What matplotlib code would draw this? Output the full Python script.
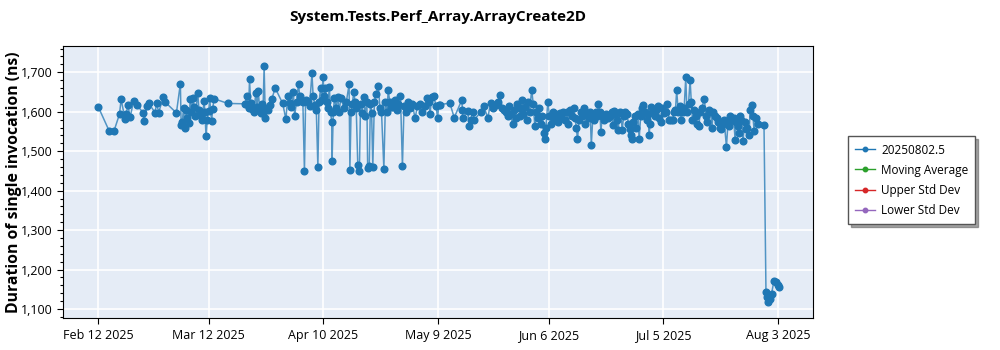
import numpy as np
import pandas as pd
import matplotlib
matplotlib.use("Agg")
from matplotlib import pyplot as plt
from matplotlib.ticker import MultipleLocator, FuncFormatter
import matplotlib.dates as mdates

plt.rcParams['font.family'] = ['Open Sans', 'DejaVu Sans']

start = pd.Timestamp("2025-02-12")

# days after Feb 12 2025
days = [0, 2.8, 4, 5.4, 5.8, 6.8, 7.1, 7.5, 8.1, 9.0, 9.8, 11.4, 11.6, 12.4, 12.8, 14.4, 14.8, 15.3, 16.5, 16.9,
        19.8, 20.8, 21.0, 21.3, 21.6, 22.0, 22.3, 22.6, 23.0, 23.3, 23.6, 24.0, 24.3, 24.6, 25.2, 25.5, 25.9, 26.3,
        26.8, 27.0, 27.3, 27.6, 28.0, 28.2, 28.7, 29.0, 29.3, 32.8,
        37.2, 37.6, 37.9, 38.1, 38.3, 38.6, 39.0, 39.4, 39.9, 40.2, 40.5, 40.9, 41.2, 41.5, 41.7, 42.0, 42.3, 42.6,
        43.0, 43.5, 43.9, 44.8, 46.7, 47.5,
        48.0, 48.5, 48.9, 49.4, 49.7, 50.2, 50.7, 51.0, 51.4, 51.8, 52.2, 52.5, 53.0, 53.5, 54.1, 54.4, 54.8, 55.2,
        55.6, 55.9, 56.3, 56.6, 56.9, 57.2, 57.5, 57.8, 58.1, 58.5, 58.8, 59.1, 59.2, 59.5, 59.8, 60.2, 60.6, 61.0,
        61.4, 62.2, 62.8, 63.5, 63.7, 64.0, 64.3, 64.7, 65.0, 65.3, 65.7, 66.1, 66.4, 66.8, 67.2, 67.6, 68.0, 68.2,
        68.6, 68.9, 69.2, 69.5, 69.9, 70.3, 70.9, 71.3, 71.7, 72.3, 72.7, 73.1, 73.4, 73.8, 74.2,
        74.5, 75.0, 75.5, 76.0, 76.5, 77.0, 77.4, 77.8, 78.3, 78.8, 79.5, 80.2, 80.8, 81.5, 82.0, 82.6, 83.2, 83.6,
        84.0, 84.4, 84.9, 85.5, 85.9, 86.2, 86.6, 89.0, 90.1, 92.0, 92.2, 92.3, 93.5, 93.9, 94.3, 94.8, 95.2, 96.9,
        97.6, 98.6, 99.3, 99.8, 100.6, 101.2, 101.7, 102.2,
        102.8, 103.2, 103.6, 104.0, 104.4, 104.9, 105.3, 105.7, 106.0, 106.4, 106.8, 107.2, 107.6, 108.0, 108.4,
        108.8, 109.2, 109.7, 110.1, 110.5, 110.9, 111.3, 111.6, 112.0, 112.4, 112.8, 113.0, 113.3, 113.8, 114.2,
        114.6, 115.0, 115.4, 115.8, 116.3, 116.8, 117.2, 117.7, 118.2, 118.6, 119.0, 119.4, 119.8, 120.3, 120.7,
        121.0, 121.3, 121.7, 122.1, 122.5, 122.9, 123.3, 123.7, 124.1, 124.5, 124.8, 125.2, 125.6, 126.0, 126.3,
        126.6, 127.0, 127.2, 127.6, 128.0, 128.5, 129.0, 129.5, 130.0, 130.2, 130.5, 130.9, 131.2, 131.6, 132.0,
        132.3, 132.6, 133.0, 133.4, 133.8, 134.2, 134.5, 134.8, 135.0, 135.4, 135.8, 136.2, 136.6, 136.9, 137.3,
        137.6, 138.0, 138.4, 138.8, 139.2, 139.4, 139.7, 140.0, 140.4, 140.8, 141.2, 141.6, 142.0, 142.4, 142.8,
        143.2, 143.6, 144.0, 144.5, 145.0, 145.4, 145.8, 146.1, 146.4, 146.8, 147.2, 147.5, 147.9, 148.3, 148.7,
        149.0, 149.4, 149.8, 150.1, 150.4, 150.8, 151.2, 151.6, 152.0, 152.4, 152.8, 153.4, 153.8, 154.2, 154.6,
        155.0, 155.3, 155.7, 156.1, 156.5, 156.9, 157.3, 157.6, 158.0, 158.4, 159.0, 159.4, 159.7, 160.0, 160.4,
        160.8, 161.2, 161.5, 161.8, 162.1, 162.5, 162.8, 163.2, 163.6, 164.0, 164.3, 164.7, 165.0, 165.4, 165.7,
        166.0, 166.4, 167.0, 168.5,
        169.0, 169.3, 169.6, 170.0, 170.4, 171.0, 171.5, 172.0, 172.4]

# duration in ns
values = [1613, 1551, 1551, 1594, 1631, 1582, 1595, 1616, 1587, 1628, 1616, 1598, 1577, 1615, 1621, 1598, 1622, 1598, 1637, 1625,
          1597, 1671, 1566, 1574, 1610, 1559, 1605, 1585, 1572, 1631, 1600, 1635, 1612, 1590, 1648, 1605, 1590, 1580,
          1627, 1600, 1538, 1580, 1603, 1635, 1577, 1608, 1633, 1621,
          1620, 1641, 1616, 1610, 1682, 1622, 1608, 1600, 1648, 1612, 1653, 1605, 1598, 1620, 1598, 1715, 1583, 1610,
          1605, 1618, 1631, 1660, 1621, 1581,
          1639, 1622, 1612, 1651, 1589, 1625, 1670, 1640, 1628, 1625, 1449, 1630, 1625, 1615, 1697, 1640, 1618, 1605,
          1460, 1625, 1660, 1630, 1688, 1640, 1660, 1625, 1610, 1663, 1600, 1574, 1475, 1600, 1635, 1610, 1638, 1600,
          1635, 1610, 1625, 1669, 1452, 1600, 1620, 1650, 1625, 1610, 1465, 1449, 1620, 1598, 1638, 1590, 1625, 1458,
          1462, 1620, 1598, 1460, 1625, 1645, 1665, 1610, 1600, 1456, 1625, 1600, 1654, 1625, 1612,
          1612, 1630, 1605, 1620, 1640, 1462, 1615, 1600, 1625, 1610, 1620, 1583, 1615, 1620, 1600, 1615, 1636, 1625,
          1595, 1638, 1640, 1615, 1583, 1618, 1618, 1622, 1585, 1629, 1605, 1585, 1602, 1564, 1580, 1600, 1580, 1600,
          1614, 1584, 1622, 1610, 1618, 1625, 1642, 1610,
          1605, 1600, 1590, 1615, 1595, 1568, 1605, 1585, 1620, 1610, 1590, 1630, 1595, 1612, 1580,
          1625, 1600, 1656, 1620, 1563, 1600, 1585, 1610, 1570, 1590, 1545, 1532, 1560, 1625, 1590,
          1570, 1600, 1580, 1595, 1575, 1598, 1585, 1600, 1580, 1600, 1570, 1605, 1590, 1610, 1585,
          1560, 1530, 1580, 1600, 1590, 1610, 1570, 1595, 1585, 1600, 1516, 1590, 1580, 1600, 1590,
          1619, 1600, 1549, 1590, 1580, 1595, 1585, 1590, 1600, 1566, 1602, 1595, 1580, 1553, 1600,
          1598, 1553, 1590, 1600, 1595, 1570, 1555, 1540, 1530, 1575, 1590, 1560, 1595, 1530, 1590,
          1610, 1618, 1600, 1580, 1595, 1541, 1570, 1612, 1600, 1590, 1605, 1615, 1585, 1575, 1610,
          1598, 1600, 1620, 1580, 1578, 1580, 1600, 1605, 1654, 1600, 1615, 1580, 1600, 1610, 1687,
          1600, 1620, 1680, 1625, 1580, 1605, 1590, 1570, 1565, 1600, 1610, 1633, 1590, 1575, 1605,
          1600, 1560, 1600, 1590, 1585, 1575, 1560, 1555, 1570, 1578, 1511, 1575, 1565, 1590, 1580,
          1585, 1528, 1575, 1565, 1545, 1590, 1580, 1527, 1575, 1555, 1560, 1540, 1605, 1616, 1590,
          1551, 1585, 1570, 1566,
          1142, 1130, 1119, 1125, 1138, 1171, 1168, 1160, 1155]

tick_dates = ["2025-02-12", "2025-03-12", "2025-04-10", "2025-05-09", "2025-06-06", "2025-07-05", "2025-08-03"]
legend_names = ["20250802.5", "Moving Average", "Upper Std Dev", "Lower Std Dev"]
legend_colors = ["#1f77b4", "#2ca02c", "#d62728", "#9467bd"]

dates = start + pd.to_timedelta(days, unit="D")

fig = plt.figure(figsize=(10, 3.5), dpi=100)
ax = fig.add_axes([0.063, 0.091, 0.75, 0.777])
ax.set_facecolor("#e5ecf6")

ax.plot(dates, values, color="#1f77b4", lw=1.1, alpha=0.75, zorder=3)
ax.plot(dates, values, ls="none", marker="o", ms=4.8, color="#1f77b4", zorder=4)

ax.set_xlim(start - pd.Timedelta(days=8.9), start + pd.Timedelta(days=180.9))
ax.set_ylim(1077, 1766)

ax.set_xticks(pd.to_datetime(tick_dates))
ax.xaxis.set_major_formatter(FuncFormatter(
    lambda v, p: "{0:%b} {0.day} {0.year}".format(mdates.num2date(v))))
ax.yaxis.set_major_locator(MultipleLocator(100))
ax.yaxis.set_minor_locator(MultipleLocator(20))
ax.yaxis.set_major_formatter(FuncFormatter(lambda v, p: f"{int(v):,}"))

ax.grid(True, color="white", lw=1.2, zorder=0)
ax.set_axisbelow(True)
ax.tick_params(labelsize=9, length=4, width=0.8)
ax.tick_params(which="minor", length=2.5, width=0.8)
for s in ax.spines.values():
    s.set_color("black")

ax.set_title("System.Tests.Perf_Array.ArrayCreate2D", fontsize=11, fontweight="bold", pad=18)
ax.set_ylabel("Duration of single invocation (ns)", fontsize=11.3, fontweight="bold")
ax.yaxis.set_label_coords(-0.055, 0.5)

handles = [plt.Line2D([], [], color=c, marker="o", ms=3.2, lw=1) for c in legend_colors]
leg = fig.legend(handles, legend_names, loc="upper left", bbox_to_anchor=(0.842, 0.627),
                 fontsize=8.5, frameon=True, fancybox=False, shadow=True,
                 handlelength=1.7, handletextpad=0.5, labelspacing=0.6, borderpad=0.6)
leg.get_frame().set_edgecolor("#555555")
leg.get_frame().set_linewidth(1)

fig.savefig("out.png", dpi=100)
